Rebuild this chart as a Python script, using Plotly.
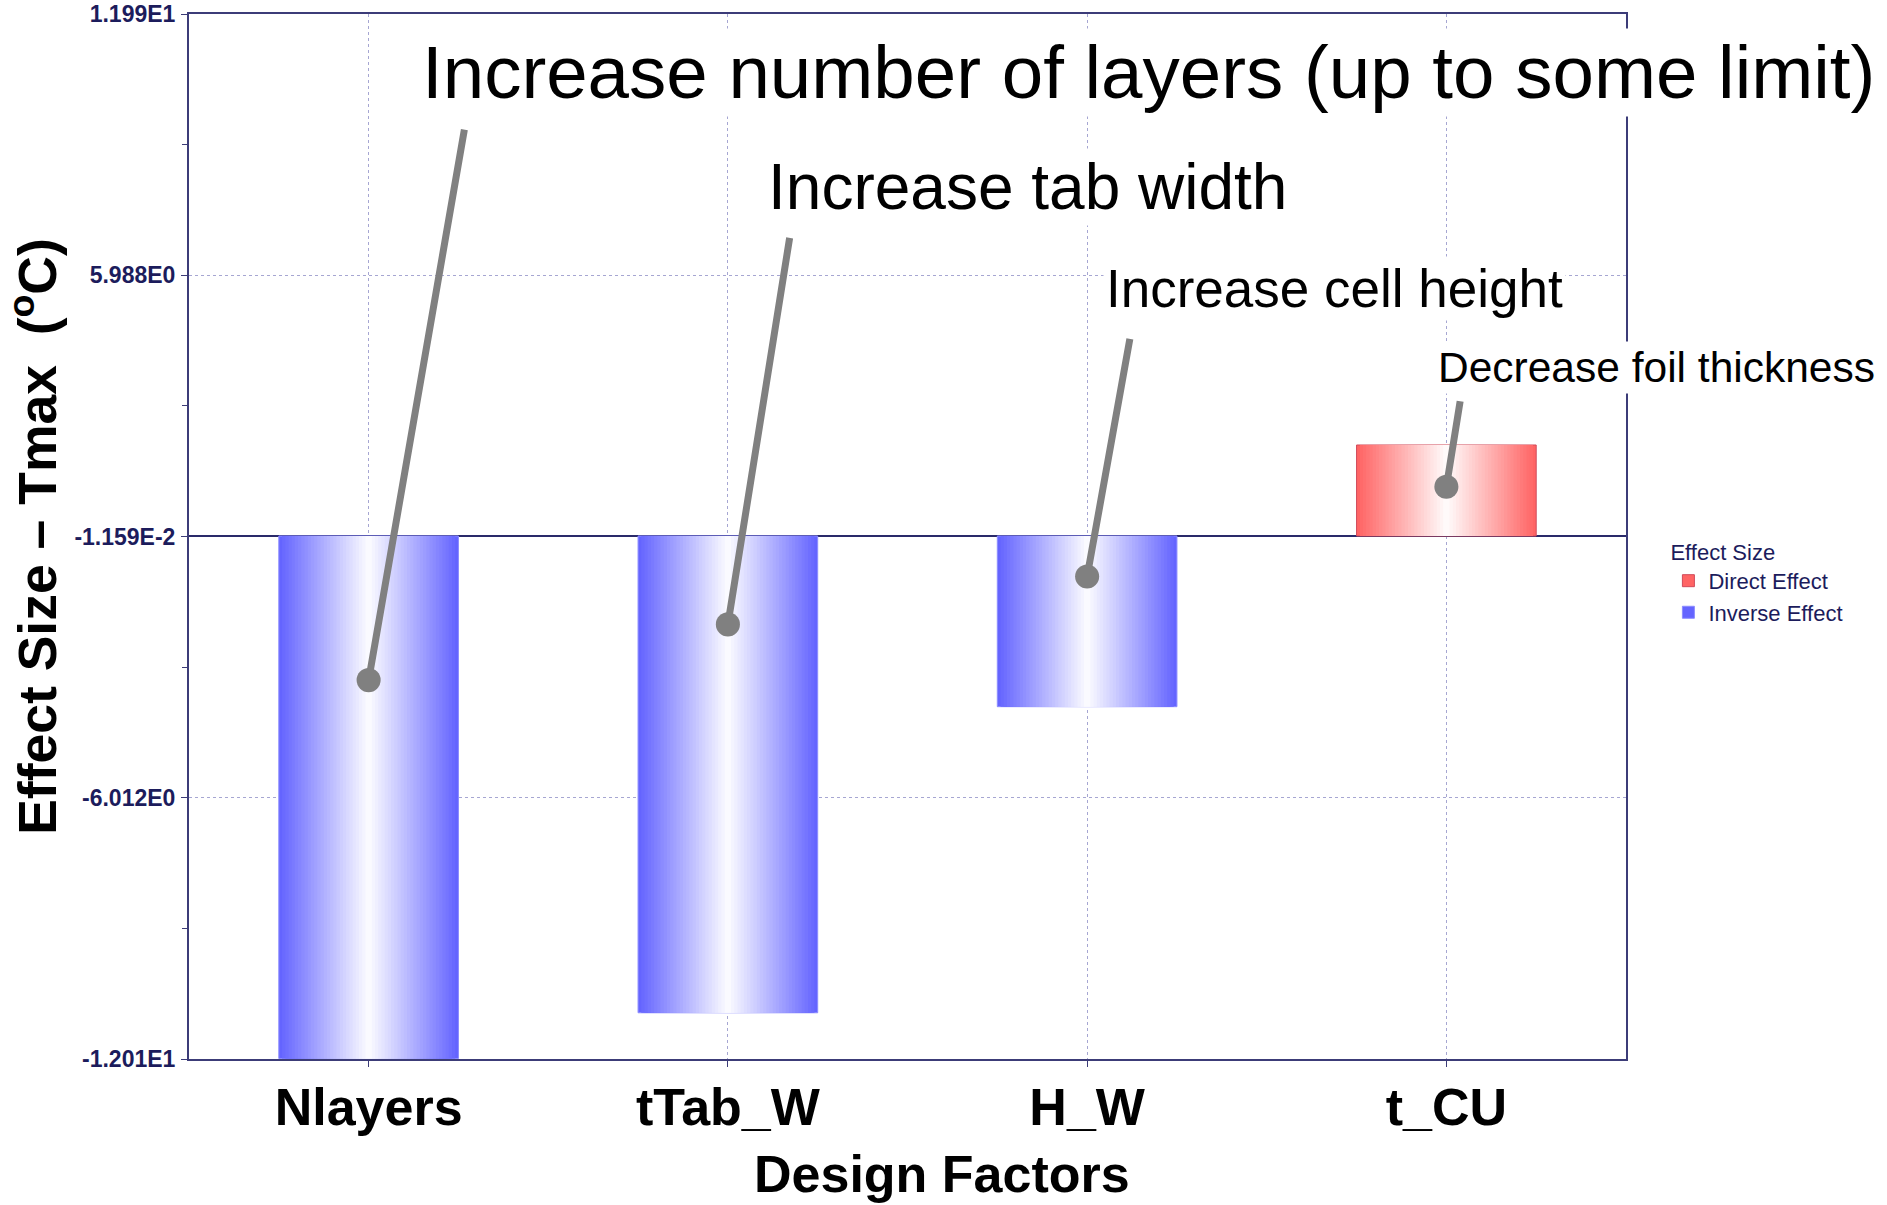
import plotly.graph_objects as go

# ---------------- data ----------------
categories = ["Nlayers", "tTab_W", "H_W", "t_CU"]
effect_values = [-12.0, -10.95, -3.92, 2.09]

y_tick_values = [-12.0116, -6.0116, -0.01159, 5.9884, 11.9884]
y_tick_labels = ["-1.201E1", "-6.012E0", "-1.159E-2", "5.988E0", "1.199E1"]
y_minor_values = [-9.0116, -3.0116, 2.9884, 8.9884]
y_range = [-12.0116, 11.9884]

callout_texts = [
    "Increase number of layers (up to some limit)",
    "Increase tab width",
    "Increase cell height",
    "Decrease foil thickness",
]
callout_anchor_values = [-3.31, -2.03, -0.93, 1.13]

legend_names = ["Direct Effect", "Inverse Effect"]

# ---------------- style ----------------
FONT = "Liberation Sans, Arial, Helvetica, sans-serif"
NAVY = "#1c1c5c"
AXIS = "#3c3c78"
GRID = "#a6a6d2"
BAR_W = 0.5
N_LAYERS = 28

edge_blue, center_blue = (100, 100, 255), (250, 250, 255)
edge_red, center_red = (255, 100, 100), (255, 250, 250)


def lerp(c1, c2, t):
    return "rgb(%d,%d,%d)" % tuple(round(a + (b - a) * t) for a, b in zip(c1, c2))


fig = go.Figure()

groups = [
    (legend_names[0], [c for c, v in zip(categories, effect_values) if v > 0],
     [v for v in effect_values if v > 0], edge_red, center_red, "#d04a5a"),
    (legend_names[1], [c for c, v in zip(categories, effect_values) if v <= 0],
     [v for v in effect_values if v <= 0], edge_blue, center_blue, "#8c8cff"),
]

for name, xs, ys, edge, center, outline in groups:
    for k in range(N_LAYERS):
        w = BAR_W * (1 - k / N_LAYERS)
        fig.add_trace(go.Bar(
            x=xs, y=ys,
            width=[w] * len(xs),
            name=name,
            legendgroup=name,
            showlegend=(k == 0),
            marker=dict(
                color=lerp(edge, center, k / (N_LAYERS - 1)),
                line=dict(color=outline if k == 0 else "rgba(0,0,0,0)", width=1 if k == 0 else 0),
            ),
            hoverinfo="skip" if k else "x+y",
        ))

# ---------------- annotations ----------------
text_pos = [  # (paper x, paper y, font size)
    (0.1601, 0.944, 74.5),
    (0.4008, 0.834, 64),
    (0.636, 0.7375, 53),
    (0.8671, 0.6614, 42.5),
]
arrow_offsets = [(96, -552), (62, -388), (43, -239), (14, -87)]

annotations = []
for cat, yv, (ax, ay) in zip(categories, callout_anchor_values, arrow_offsets):
    annotations.append(dict(
        x=cat, y=yv, xref="x", yref="y", ax=ax, ay=ay, axref="pixel", ayref="pixel",
        text="", showarrow=True, arrowhead=6, arrowsize=0.86, arrowwidth=7,
        arrowcolor="#808080", standoff=0, startstandoff=0,
    ))
for txt, (px, py, fs) in zip(callout_texts, text_pos):
    annotations.append(dict(
        x=px, y=py, xref="paper", yref="paper", xanchor="left", yanchor="middle",
        text=txt, showarrow=False, bgcolor="white", borderpad=2,
        font=dict(family=FONT, size=fs, color="black"),
    ))
annotations.append(dict(
    x=0.524, y=-0.11, xref="paper", yref="paper", xanchor="center", yanchor="middle",
    text="<b>Design Factors</b>", showarrow=False,
    font=dict(family=FONT, size=52, color="black"),
))

fig.update_layout(
    width=1887, height=1205,
    margin=dict(l=189, r=261, t=14, b=146, autoexpand=False),
    paper_bgcolor="white", plot_bgcolor="white",
    barmode="overlay",
    font=dict(family=FONT, color=NAVY),
    showlegend=True,
    legend=dict(
        x=1.0295, y=0.505, xanchor="left", yanchor="top",
        title=dict(text="Effect Size", font=dict(family=FONT, size=22, color=NAVY)),
        font=dict(family=FONT, size=22, color=NAVY),
        bgcolor="rgba(0,0,0,0)", traceorder="normal", tracegroupgap=0,
    ),
    annotations=annotations,
    xaxis=dict(
        type="category", categoryorder="array", categoryarray=categories,
        range=[-0.5, 3.5], automargin=False, ticklabeloverflow="allow",
        showline=True, mirror=True, linecolor=AXIS, linewidth=2,
        ticks="outside", ticklen=6, tickcolor=AXIS, tickwidth=1,
        showgrid=True, gridcolor=GRID, griddash="dot", gridwidth=1,
        tickfont=dict(family=FONT, size=52, color="black", weight="bold"),
        ticklabelstandoff=-4,
    ),
    yaxis=dict(
        range=y_range, tickmode="array", tickvals=y_tick_values, ticktext=y_tick_labels,
        automargin=False, ticklabeloverflow="allow",
        showline=True, mirror=True, linecolor=AXIS, linewidth=2,
        ticks="outside", ticklen=6, tickcolor=AXIS, tickwidth=1,
        minor=dict(tickmode="array", tickvals=y_minor_values, ticks="outside",
                   ticklen=5, tickcolor=AXIS, showgrid=False),
        showgrid=True, gridcolor=GRID, griddash="dot", gridwidth=1,
        zeroline=True, zerolinecolor="#2a2a6a", zerolinewidth=2,
        tickfont=dict(family=FONT, size=23, color=NAVY, weight="bold"),
        ticklabelstandoff=1,
        title=dict(text="<b>Effect Size \u2013 Tmax\u00a0 (<sup>o</sup>C)</b>",
                   font=dict(family=FONT, size=53.5, color="black"), standoff=25),
    ),
)

# remove the browser's default 8 px body margin so the figure fills the window exactly
fig.write_html("out.html", config={"displayModeBar": False},
               post_script="document.body.style.margin='0';")
